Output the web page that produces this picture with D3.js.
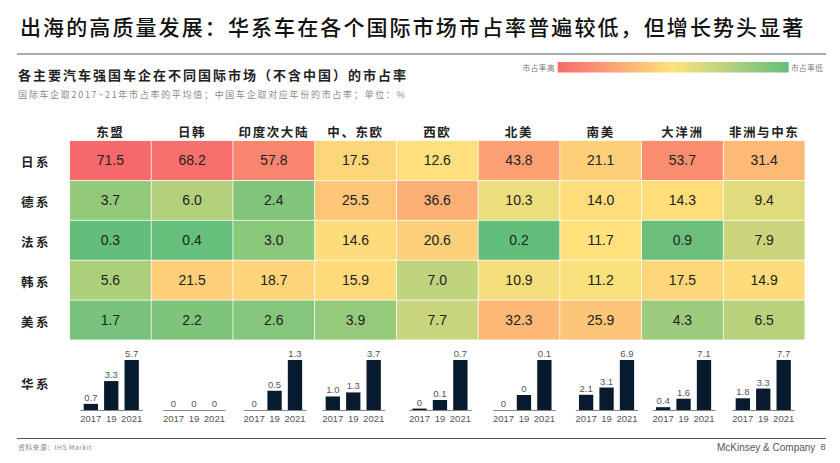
<!DOCTYPE html>
<html lang="zh"><head><meta charset="utf-8">
<script src="https://cdn.jsdelivr.net/npm/d3@7"></script>
<style>html,body{margin:0;padding:0;background:#fff;overflow:hidden}svg{display:block}</style>
</head><body><svg id="c" width="840" height="463"></svg>
<script>
const titleText = "出海的高质量发展\uFF1A华系车在各个国际市场市占率普遍较低\uFF0C但增长势头显著";
const subtitleText = "各主要汽车强国车企在不同国际市场\uFF08不含中国\uFF09的市占率";
const noteText = "国际车企取2017~21年市占率的平均值\uFF1B中国车企取对应年份的市占率\uFF1B单位\uFF1A%";
const legendHigh = "市占率高", legendLow = "市占率低";
const sourceText = "资料来源\uFF1AIHS Markit", companyText = "McKinsey & Company", pageText = "8";

const markets = ["东盟","日韩","印度次大陆","中、东欧","西欧","北美","南美","大洋洲","非洲与中东"];
const brands = ["日系","德系","法系","韩系","美系"];
const japan   = [71.5,68.2,57.8,17.5,12.6,43.8,21.1,53.7,31.4];
const germany = [3.7,6.0,2.4,25.5,36.6,10.3,14.0,14.3,9.4];
const france  = [0.3,0.4,3.0,14.6,20.6,0.2,11.7,0.9,7.9];
const korea   = [5.6,21.5,18.7,15.9,7.0,10.9,11.2,17.5,14.9];
const usa     = [1.7,2.2,2.6,3.9,7.7,32.3,25.9,4.3,6.5];
const shares = [japan,germany,france,korea,usa];

const chinaRow = "华系";
const years = ["2017","19","2021"];
// Bar heights come from these estimated unrounded values; the printed labels are rounded.
const chinaValues = [[0.7,3.3,5.7],[0,0,0],[0,0.5,1.3],[1.0,1.3,3.7],[0.02,0.14,0.7],[0,0.03,0.1],[2.1,3.1,6.9],[0.4,1.6,7.1],[1.8,3.3,7.7]];
const chinaLabels = [["0.7","3.3","5.7"],["0","0","0"],["0","0.5","1.3"],["1.0","1.3","3.7"],["0","0.1","0.7"],["0","0","0.1"],["2.1","3.1","6.9"],["0.4","1.6","7.1"],["1.8","3.3","7.7"]];
// Left edge of each small chart's axis (layout, not data)
const miniLefts = [80,162.7,243.3,322,408.7,492.7,575.3,652.3,732];

const CJK = '"Noto Sans CJK SC","Noto Sans",sans-serif';
const LAT = '"Liberation Sans",Arial,sans-serif';
const svg = d3.select("#c");

const text = (x,y,s,o={}) => svg.append("text").attr("x",x).attr("y",y).text(s)
  .attr("font-family",o.f||CJK).attr("font-size",o.s||12).attr("font-weight",o.w||400)
  .attr("fill",o.c||"#222").attr("text-anchor",o.a||"start").attr("dominant-baseline","central")
  .attr("letter-spacing",o.l||0);

text(20,26,titleText,{s:21,w:500,c:"#111",l:2.1});
svg.append("line").attr("x1",17).attr("x2",826).attr("y1",54).attr("y2",54).attr("stroke","#555").attr("stroke-width",1);
text(18,74.5,subtitleText,{s:13,w:700,c:"#222",l:2});
text(18,94.5,noteText,{s:9,c:"#8a8a8a",l:1.7});

// colour scale: Excel-style green / yellow / red around the median
const all = shares.flat();
const color = d3.scaleLinear().domain([d3.min(all),d3.median(all),d3.max(all)])
  .range(["#63BE7B","#FFE27C","#F8696B"]);

// legend
const grad = svg.append("defs").append("linearGradient").attr("id","lg");
[["0%","#F8696B"],["50%","#FFE27C"],["100%","#63BE7B"]].forEach(([o,c])=>grad.append("stop").attr("offset",o).attr("stop-color",c));
svg.append("rect").attr("x",557.7).attr("y",62).attr("width",231).attr("height",10.5).attr("fill","url(#lg)");
text(555,67.5,legendHigh,{s:7.5,c:"#777",a:"end",l:.6});
text(791,67.5,legendLow,{s:7.5,c:"#777",l:.6});

// heatmap
const x = d3.scaleBand().domain(markets).range([69.5,805]);
const y = d3.scaleBand().domain(brands).range([140.5,340]);

svg.append("g").selectAll("text").data(markets).join("text")
  .attr("x",d=>x(d)+x.bandwidth()/2).attr("y",131.5).text(d=>d)
  .attr("text-anchor","middle").attr("dominant-baseline","central")
  .attr("font-family",CJK).attr("font-size",12.5).attr("font-weight",700).attr("fill","#222").attr("letter-spacing",1.6);

svg.append("g").selectAll("text").data(brands).join("text")
  .attr("x",36).attr("y",d=>y(d)+y.bandwidth()/2+1.5).text(d=>d)
  .attr("text-anchor","middle").attr("dominant-baseline","central")
  .attr("font-family",CJK).attr("font-size",12.5).attr("font-weight",700).attr("fill","#222").attr("letter-spacing",2.5);

const cells = shares.flatMap((row,i)=>row.map((v,j)=>({b:brands[i],m:markets[j],v})));
const cg = svg.append("g").selectAll("g").data(cells).join("g");
cg.append("rect").attr("x",d=>x(d.m)+.4).attr("y",d=>y(d.b)+.4)
  .attr("width",x.bandwidth()-.8).attr("height",y.bandwidth()-.8).attr("fill",d=>color(d.v));
cg.append("text").attr("x",d=>x(d.m)+x.bandwidth()/2).attr("y",d=>y(d.b)+y.bandwidth()/2)
  .text(d=>d.v.toFixed(1)).attr("text-anchor","middle").attr("dominant-baseline","central")
  .attr("font-family",LAT).attr("font-size",14).attr("fill","#222");

// small bar charts
text(36,383,chinaRow,{s:12.5,w:700,a:"middle",l:2.5});
const miniBase = 410, miniTop = 360, miniWidth = 62.5;
chinaValues.forEach((vals,i)=>{
  const g = svg.append("g").attr("transform",`translate(${miniLefts[i]},0)`);
  const bx = d3.scaleBand().domain(years).range([0,miniWidth]).paddingInner(.3).paddingOuter(.18);
  const by = d3.scaleLinear().domain([0,d3.max(vals)||1]).range([miniBase,miniTop]);
  const rows = vals.map((v,k)=>({yr:years[k],v,label:chinaLabels[i][k]}));
  g.selectAll("rect").data(rows).join("rect")
    .attr("x",d=>bx(d.yr)).attr("width",bx.bandwidth())
    .attr("y",d=>by(d.v)).attr("height",d=>miniBase-by(d.v)).attr("fill","#071a2e");
  g.selectAll("text.v").data(rows).join("text").attr("class","v")
    .attr("x",d=>bx(d.yr)+bx.bandwidth()/2).attr("y",d=>by(d.v)-6.5).text(d=>d.label)
    .attr("text-anchor","middle").attr("dominant-baseline","central")
    .attr("font-family",LAT).attr("font-size",9.5).attr("fill","#555");
  const ax = g.append("g").attr("transform",`translate(0,${miniBase})`)
    .call(d3.axisBottom(bx).tickSize(0).tickPadding(5));
  ax.select(".domain").attr("stroke","#666").attr("stroke-width",.8);
  ax.selectAll("text").attr("font-family",LAT).attr("font-size",9.5).attr("fill","#555");
});

// footer
svg.append("line").attr("x1",17).attr("x2",826).attr("y1",438.5).attr("y2",438.5).attr("stroke","#555").attr("stroke-width",1);
text(18,446.5,sourceText,{s:6.8,c:"#888",l:.5});
text(717,447,companyText,{f:LAT,s:10,c:"#555"});
text(823,447,pageText,{f:LAT,s:9,c:"#555",a:"middle"});
</script></body></html>
